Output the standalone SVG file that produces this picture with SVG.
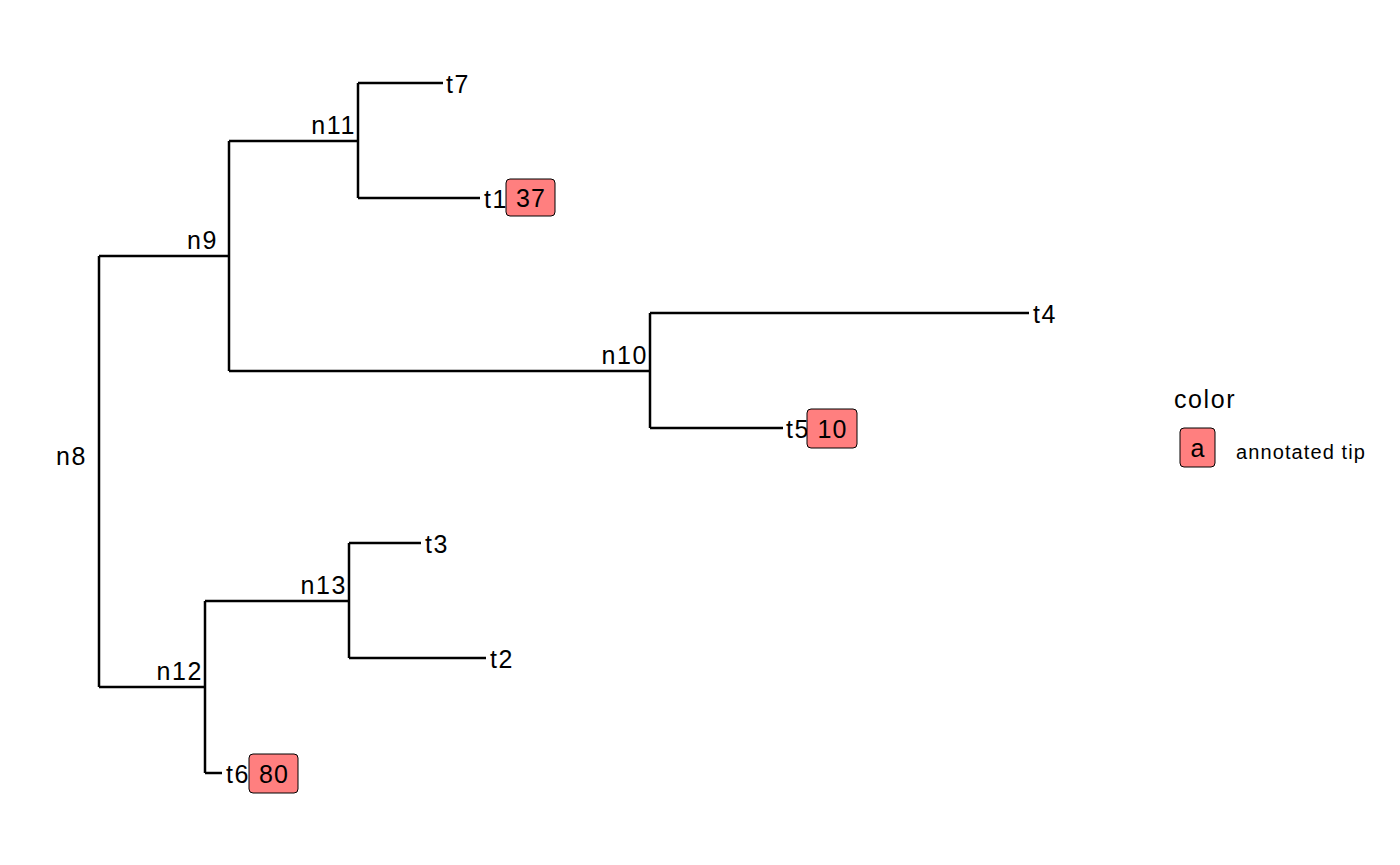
<svg xmlns="http://www.w3.org/2000/svg" width="1400" height="865" viewBox="0 0 1400 865">
<style>
.e{stroke:#000;stroke-width:2.5;fill:none;stroke-linecap:butt}
.t{font-family:"Liberation Sans",Arial,sans-serif;font-size:25px;letter-spacing:1.6px;fill:#000}
.r{text-anchor:end}
.b{fill:#ff7f7f;stroke:#000;stroke-width:1}
.bt{font-family:"Liberation Sans",Arial,sans-serif;font-size:25px;letter-spacing:1px;fill:#000;text-anchor:middle}
</style>
<rect width="1400" height="865" fill="#fff"/>
<g id="connectors">
<path class="e" d="M99,256V687"/>
<path class="e" d="M99,256H229"/>
<path class="e" d="M229,141V371"/>
<path class="e" d="M229,141H358"/>
<path class="e" d="M358,83V198"/>
<path class="e" d="M358,83H443"/>
<path class="e" d="M358,198H480"/>
<path class="e" d="M229,371H650"/>
<path class="e" d="M650,313V428"/>
<path class="e" d="M650,313H1029"/>
<path class="e" d="M650,428H783"/>
<path class="e" d="M99,687H205"/>
<path class="e" d="M205,601V773"/>
<path class="e" d="M205,601H349"/>
<path class="e" d="M349,543V658"/>
<path class="e" d="M349,543H421"/>
<path class="e" d="M349,658H486"/>
<path class="e" d="M205,773H222"/>
</g>
<g id="n8"><text class="t" x="56" y="465">n8</text></g>
<g id="n9"><text class="t r" x="218" y="249">n9</text></g>
<g id="n10"><text class="t r" x="648" y="364">n10</text></g>
<g id="n11"><text class="t r" x="356" y="134">n11</text></g>
<g id="n12"><text class="t r" x="203" y="680">n12</text></g>
<g id="n13"><text class="t r" x="347" y="594">n13</text></g>
<g id="t7"><text class="t" x="446" y="93">t7</text></g>
<g id="t1"><text class="t" x="484" y="208">t1</text><rect class="b" x="506" y="179" width="49" height="37" rx="4"/><text class="bt" x="531" y="207">37</text></g>
<g id="t4"><text class="t" x="1033" y="323">t4</text></g>
<g id="t5"><text class="t" x="786" y="438">t5</text><rect class="b" x="807" y="409" width="50" height="39" rx="4"/><text class="bt" x="832.5" y="438">10</text></g>
<g id="t3"><text class="t" x="425" y="553">t3</text></g>
<g id="t2"><text class="t" x="490" y="668">t2</text></g>
<g id="t6"><text class="t" x="226" y="783">t6</text><rect class="b" x="249" y="754" width="49" height="39" rx="4"/><text class="bt" x="274" y="783">80</text></g>
<g id="legend">
<text class="t" x="1174" y="408">color</text>
<rect class="b" x="1180" y="428" width="35" height="39" rx="4"/>
<text class="bt" x="1198" y="457">a</text>
<text x="1236" y="459" style="font-family:'Liberation Sans',Arial,sans-serif;font-size:20px;letter-spacing:1.1px;fill:#000">annotated tip</text>
</g>
</svg>
